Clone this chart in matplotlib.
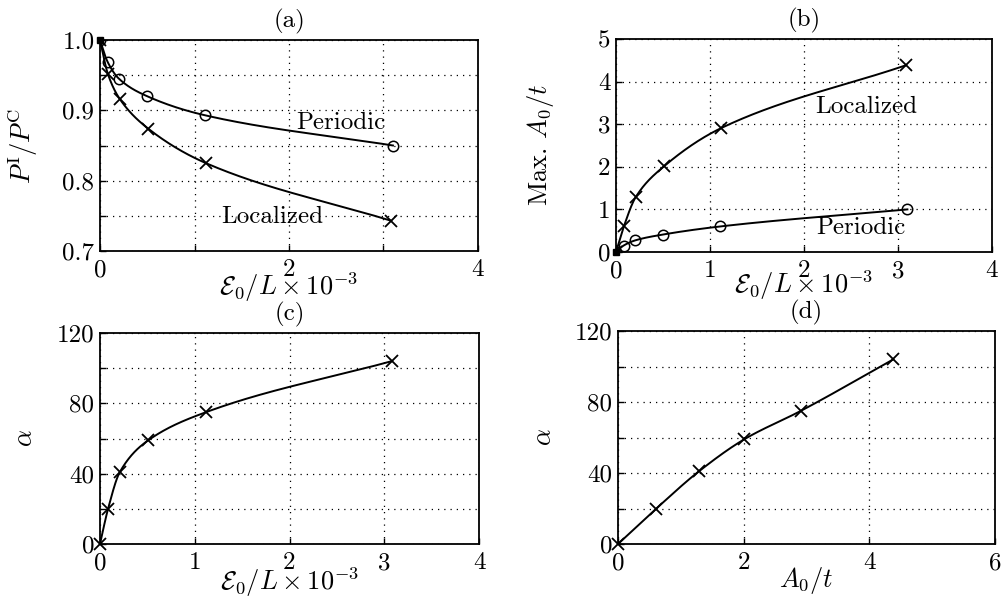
import numpy as np
import matplotlib
matplotlib.use("Agg")
import matplotlib.pyplot as plt
from matplotlib.ticker import FixedLocator, FixedFormatter

plt.rcParams['font.family'] = ['cmr10', 'DejaVu Serif']
plt.rcParams['mathtext.fontset'] = 'cm'
plt.rcParams['axes.formatter.use_mathtext'] = True
plt.rcParams['font.size'] = 18

# ---- data ----
loc_eps = [0.0, 0.085, 0.21, 0.51, 1.12, 3.08]      # E0/L x 1e-3, localized
loc_p = [1.0, 0.951, 0.916, 0.874, 0.825, 0.743]    # P^I/P^C localized
loc_a0 = [0.0, 0.61, 1.29, 2.01, 2.91, 4.38]        # max A0/t localized
loc_alpha = [0.0, 20.0, 41.0, 59.0, 75.0, 104.0]    # alpha localized

per_eps = [0.0, 0.08, 0.2, 0.5, 1.11, 3.1]          # E0/L x 1e-3, periodic
per_p = [1.0, 0.969, 0.945, 0.920, 0.893, 0.850]    # P^I/P^C periodic
per_a0 = [0.0, 0.15, 0.27, 0.41, 0.60, 1.0]         # max A0/t periodic


def pchip(x, y, n=400):
    x = np.asarray(x, float); y = np.asarray(y, float)
    h = np.diff(x); d = np.diff(y) / h
    m = np.zeros_like(y)
    for k in range(1, len(x) - 1):
        if d[k - 1] * d[k] > 0:
            w1 = 2 * h[k] + h[k - 1]; w2 = h[k] + 2 * h[k - 1]
            m[k] = (w1 + w2) / (w1 / d[k - 1] + w2 / d[k])
    m[0] = d[0]; m[-1] = d[-1]
    xs = np.linspace(x[0], x[-1], n)
    idx = np.clip(np.searchsorted(x, xs) - 1, 0, len(x) - 2)
    t = (xs - x[idx]) / h[idx]
    h00 = 2 * t**3 - 3 * t**2 + 1; h10 = t**3 - 2 * t**2 + t
    h01 = -2 * t**3 + 3 * t**2; h11 = t**3 - t**2
    ys = h00 * y[idx] + h10 * h[idx] * m[idx] + h01 * y[idx + 1] + h11 * h[idx] * m[idx + 1]
    return xs, ys


W, H = 1002, 597
fig = plt.figure(figsize=(W / 100, H / 100), dpi=100)

def ax_at(l, t, r, b):
    return fig.add_axes([l / W, 1 - b / H, (r - l) / W, (b - t) / H])

axa = ax_at(100, 40, 478, 251)
axb = ax_at(616, 39, 992, 252)
axc = ax_at(100, 333, 479, 544)
axd = ax_at(618, 331, 995, 544)

FS = 18

def style(ax, xt, xl, yt, yl, title):
    ax.xaxis.set_major_locator(FixedLocator(xt))
    ax.xaxis.set_major_formatter(FixedFormatter(xl))
    ax.yaxis.set_major_locator(FixedLocator(yt))
    ax.yaxis.set_major_formatter(FixedFormatter(yl))
    ax.set_xlim(xt[0], xt[-1]); ax.set_ylim(yt[0], yt[-1])
    ax.grid(True, color='black', linestyle=(0, (1, 4)), linewidth=0.9)
    ax.tick_params(direction='in', length=4, width=1.0, labelsize=FS)
    ax.tick_params(axis='x', pad=6)
    ax.tick_params(axis='y', pad=4)
    for s in ax.spines.values():
        s.set_linewidth(1.3)
        s.set_zorder(3)
    ax.set_title(title, fontsize=FS, pad=9)

def ylab(ax, txt, xc):
    ax.set_ylabel(txt, fontsize=FS + 1)
    ax.yaxis.set_label_coords(xc, 0.5)
    ax.yaxis.label.set_verticalalignment('center')

def xlab(ax, txt, yt):
    ax.set_xlabel(txt, fontsize=FS + 1)
    ax.xaxis.set_label_coords(0.5, yt)

lw = 1.4
xkw = dict(marker='x', linestyle='none', color='black', markersize=9, markeredgewidth=1.3)
okw = dict(marker='o', linestyle='none', color='black', markersize=7.5, markeredgewidth=1.1,
           markerfacecolor='none')
skw = dict(marker='s', linestyle='none', color='black', markersize=5)

# (a)
xs, ys = pchip(loc_eps, loc_p); axa.plot(xs, ys, 'k-', lw=lw)
xs, ys = pchip(per_eps, per_p); axa.plot(xs, ys, 'k-', lw=lw)
axa.plot(loc_eps, loc_p, **xkw)
axa.plot(per_eps, per_p, **okw)
axa.plot(loc_eps[:1], loc_p[:1], clip_on=False, **skw)
style(axa, [0, 1, 2, 3, 4], ['0', '', '2', '', '4'],
      [0.7, 0.75, 0.8, 0.85, 0.9, 0.95, 1.0], ['0.7', '', '0.8', '', '0.9', '', '1.0'], '(a)')
ylab(axa, r'$P^{\rm I}/P^{\rm C}$', -0.205)
xlab(axa, r'$\mathcal{E}_0/L\times10^{-3}$', -0.09)
axa.text(2.55, 0.882, 'Periodic', fontsize=FS, ha='center', va='center')
axa.text(1.82, 0.748, 'Localized', fontsize=FS, ha='center', va='center')

# (b)
xs, ys = pchip(loc_eps, loc_a0); axb.plot(xs, ys, 'k-', lw=lw)
xs, ys = pchip(per_eps, per_a0); axb.plot(xs, ys, 'k-', lw=lw)
axb.plot(loc_eps, loc_a0, **xkw)
axb.plot(per_eps, per_a0, **okw)
axb.plot(loc_eps[:1], loc_a0[:1], clip_on=False, **skw)
style(axb, [0, 1, 2, 3, 4], ['0', '1', '2', '3', '4'],
      [0, 1, 2, 3, 4, 5], ['0', '1', '2', '3', '4', '5'], '(b)')
ylab(axb, r'Max. $A_0/t$', -0.2)
xlab(axb, r'$\mathcal{E}_0/L\times10^{-3}$', -0.075)
axb.text(2.66, 3.40, 'Localized', fontsize=FS, ha='center', va='center')
axb.text(2.6, 0.56, 'Periodic', fontsize=FS, ha='center', va='center')

# (c)
xs, ys = pchip(loc_eps, loc_alpha); axc.plot(xs, ys, 'k-', lw=lw)
axc.plot(loc_eps, loc_alpha, clip_on=False, **xkw)
style(axc, [0, 1, 2, 3, 4], ['0', '1', '2', '3', '4'],
      [0, 20, 40, 60, 80, 100, 120], ['0', '', '40', '', '80', '', '120'], '(c)')
ylab(axc, r'$\alpha$', -0.198)
xlab(axc, r'$\mathcal{E}_0/L\times10^{-3}$', -0.1)

# (d)
xs, ys = pchip(loc_a0, loc_alpha); axd.plot(xs, ys, 'k-', lw=lw)
axd.plot(loc_a0, loc_alpha, clip_on=False, **xkw)
style(axd, [0, 2, 4, 6], ['0', '2', '4', '6'],
      [0, 20, 40, 60, 80, 100, 120], ['0', '', '40', '', '80', '', '120'], '(d)')
ylab(axd, r'$\alpha$', -0.196)
xlab(axd, r'$A_0/t$', -0.1)

fig.savefig('out.png', dpi=100)
